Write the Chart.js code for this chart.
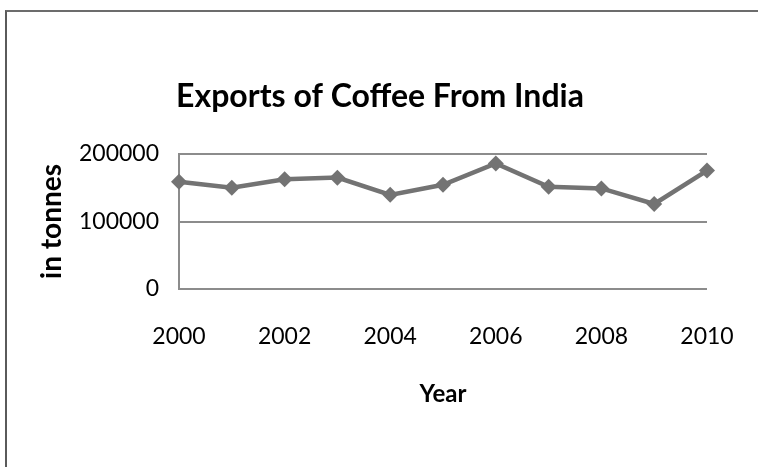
<!DOCTYPE html>
<html>
<head>
<meta charset="utf-8">
<script src="https://cdn.jsdelivr.net/npm/chart.js@4/dist/chart.umd.min.js"></script>
<style>
  html, body { margin: 0; padding: 0; background: #fff; overflow: hidden; }
  #wrap { position: relative; width: 758px; height: 467px; overflow: hidden; }
  #frame {
    position: absolute; left: 5px; top: 10px; width: 780px; height: 480px;
    border-top: 2px solid #6c6c6c; border-left: 2px solid #5a5a5a;
  }
  canvas { position: absolute; left: 0; top: 0; }
</style>
</head>
<body>
<div id="wrap">
  <div id="frame"></div>
  <canvas id="coffeeChart" width="758" height="467"></canvas>
</div>
<script>
// export figures, tonnes per year
const years = ['2000', '2001', '2002', '2003', '2004', '2005', '2006', '2007', '2008', '2009', '2010'];
const exportsTonnes = [159000, 150000, 162500, 165000, 139500, 154500, 186000, 151500, 149000, 126000, 175500];
const yTicks = [0, 100000, 200000];
const chartTitle = 'Exports of Coffee From India';

const grey = '#737373';
const gridGrey = '#8c8c8c';

// title is centred on the page, not on the plot, so draw it ourselves
const pageTitle = {
  id: 'pageTitle',
  afterDraw(chart) {
    const c = chart.ctx;
    c.save();
    c.font = 'bold 32px Lato';
    c.fillStyle = '#000';
    c.textAlign = 'center';
    c.textBaseline = 'alphabetic';
    c.fillText(chartTitle, 380, 107);
    c.restore();
  }
};

const ctx = document.getElementById('coffeeChart').getContext('2d');

new Chart(ctx, {
  type: 'line',
  data: {
    labels: years,
    datasets: [{
      label: 'Exports',
      data: exportsTonnes,
      borderColor: grey,
      backgroundColor: grey,
      borderWidth: 4.5,
      pointStyle: 'rectRot',
      pointRadius: 8,
      pointBorderWidth: 0,
      pointBackgroundColor: grey,
      tension: 0,
      fill: false
    }]
  },
  plugins: [pageTitle],
  options: {
    responsive: false,
    animation: false,
    layout: { padding: { left: 0, right: 51, top: 154, bottom: 0 } },
    plugins: {
      legend: { display: false },
      tooltip: { enabled: false },
      title: { display: false }
    },
    scales: {
      x: {
        type: 'category',
        offset: false,
        grid: { display: false, drawTicks: false },
        border: { display: false },
        ticks: {
          autoSkip: false,
          maxRotation: 0,
          padding: 34,
          color: '#000',
          font: { family: 'Lato', size: 23 },
          callback: function (value, index) {
            return index % 2 === 0 ? years[index] : '';
          }
        },
        title: {
          display: true,
          text: 'Year',
          color: '#000',
          font: { family: 'Lato', size: 24, weight: 'bold' },
          padding: { top: 0, bottom: 58 }
        },
        afterFit: function (scale) {
          scale.height = 178;
          scale.paddingLeft = 0;
          scale.paddingRight = 0;
        }
      },
      y: {
        min: 0,
        max: 200000,
        afterBuildTicks: function (scale) {
          scale.ticks = yTicks.map(v => ({ value: v }));
        },
        grid: { color: gridGrey, lineWidth: 2, drawTicks: false },
        border: { display: true, color: gridGrey, width: 2 },
        ticks: {
          padding: 20,
          color: '#000',
          font: { family: 'Lato', size: 23 },
          callback: function (value) { return String(value); }
        },
        title: {
          display: true,
          text: 'in tonnes',
          color: '#000',
          font: { family: 'Lato', size: 28, weight: 'bold' },
          padding: { top: 35, bottom: 0 }
        },
        afterFit: function (scale) {
          scale.width = 179;
          scale.paddingTop = 0;
          scale.paddingBottom = 0;
        }
      }
    }
  }
});
</script>
</body>
</html>
